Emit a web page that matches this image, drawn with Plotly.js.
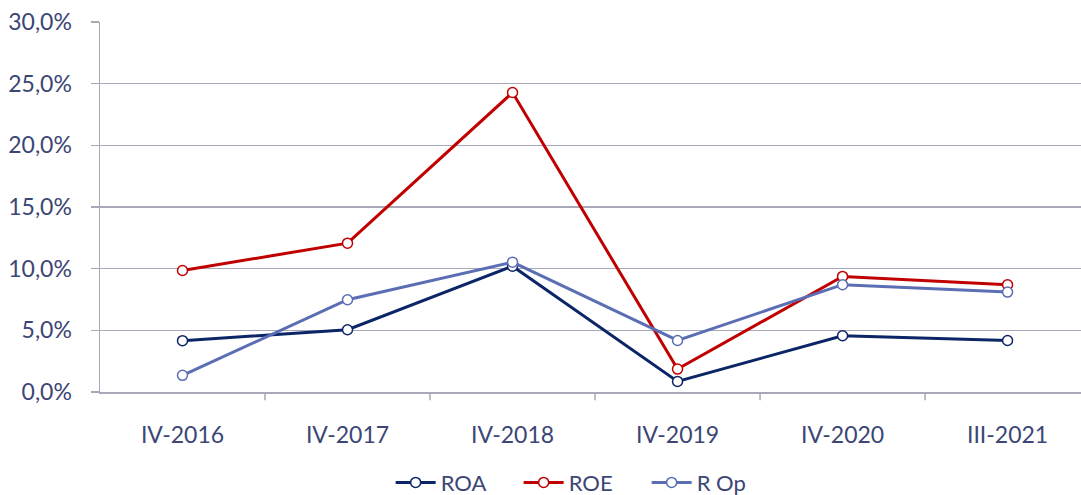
<!DOCTYPE html>
<html>
<head>
<meta charset="utf-8">
<script src="https://cdn.plot.ly/plotly-3.0.1.min.js"></script>
<style>html,body{margin:0;padding:0;background:#fff;overflow:hidden}#chart{width:1081px;height:495px}</style>
</head>
<body>
<div id="chart"></div>
<script>
const categories = ["IV-2016", "IV-2017", "IV-2018", "IV-2019", "IV-2020", "III-2021"];
const roa  = [0.0416, 0.0505, 0.102, 0.0086, 0.0456, 0.0418];
const roe  = [0.0985, 0.1207, 0.2428, 0.0186, 0.0937, 0.0870];
const rop  = [0.0135, 0.0748, 0.1053, 0.0418, 0.0870, 0.0810];
const yTicks = [0, 0.05, 0.10, 0.15, 0.20, 0.25, 0.30];
const yTickText = ["0,0%", "5,0%", "10,0%", "15,0%", "20,0%", "25,0%", "30,0%"];

const textColor = "#3B4675";
const gridColor = "#A8A8B8";
const fontFam = "Lato, 'Noto Sans', sans-serif";

function series(name, y, color) {
  return {
    type: "scatter", mode: "lines+markers", name: name,
    x: categories.map((c, i) => i), y: y,
    line: {color: color, width: 3},
    marker: {symbol: "circle", size: 10, color: "#ffffff", line: {color: color, width: 1.5}},
    hoverinfo: "skip"
  };
}

const data = [
  series("ROA", roa, "#0B2566"),
  series("ROE", roe, "#C00000"),
  series("R Op", rop, "#5B6DB3")
];

const layout = {
  width: 1081, height: 495,
  margin: {l: 100, r: 0, t: 22, b: 103},
  paper_bgcolor: "#ffffff", plot_bgcolor: "#ffffff",
  font: {family: fontFam, color: textColor, size: 23},
  showlegend: true,
  legend: {orientation: "h", x: 0.539, xref: "container", xanchor: "center",
           y: 0.025, yref: "container", yanchor: "middle",
           entrywidth: 73, entrywidthmode: "pixels",
           font: {size: 22, color: textColor}, itemwidth: 40, tracegroupgap: 0},
  xaxis: {
    range: [-0.5, 5.445], tickmode: "array",
    tickvals: categories.map((c, i) => i), ticktext: categories,
    showgrid: false, zeroline: false, showline: true, linecolor: gridColor, linewidth: 1.5,
    ticks: "", ticklabelstandoff: 22, tickfont: {size: 23, color: textColor}, fixedrange: true
  },
  yaxis: {
    range: [0, 0.30], tickmode: "array", tickvals: yTicks, ticktext: yTickText,
    showgrid: true, gridcolor: gridColor, gridwidth: 1.5, zeroline: false,
    showline: true, linecolor: gridColor, linewidth: 1.5,
    ticks: "outside", ticklen: 8, tickcolor: gridColor, tickwidth: 1.5,
    ticklabelstandoff: 14,
    tickfont: {size: 23, color: textColor}, fixedrange: true
  },
  shapes: [0, 1, 2, 3, 4, 5].map(i => ({
    type: "line", xref: "x", yref: "paper", x0: i + 0.5, x1: i + 0.5, y0: 0, y1: -0.022,
    line: {color: gridColor, width: 1.5}
  }))
};

Plotly.newPlot("chart", data, layout, {staticPlot: true, displayModeBar: false});
</script>
</body>
</html>
